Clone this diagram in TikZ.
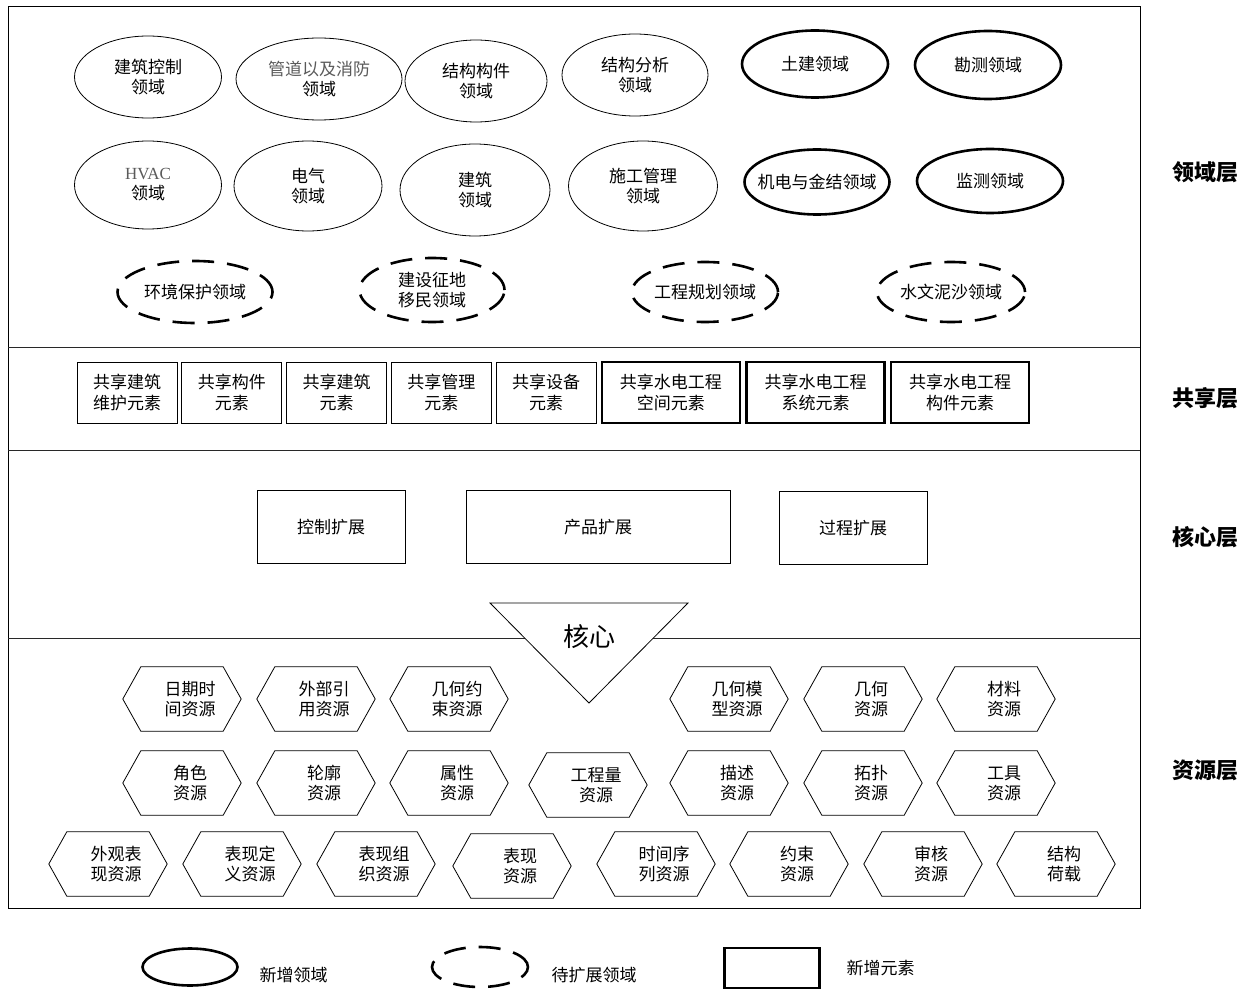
\documentclass[tikz,border=0pt]{standalone}
\usepackage{fontspec}
\setmainfont{Noto Sans CJK SC}
\newfontfamily\latinserif{Liberation Serif}
\usepackage{tikz}
\usetikzlibrary{shapes.geometric,positioning,calc}
\usepackage{xcolor}
\definecolor{framegray}{RGB}{40,40,40}
\definecolor{thintext}{RGB}{90,90,90}

\tikzset{
  domainell/.style={draw, ellipse, line width=0.8pt, inner sep=0pt, align=center, font=\fontsize{17}{20}\selectfont},
  newdomain/.style={domainell, line width=2.6pt},
  futuredomain/.style={domainell, line width=2.6pt, dash pattern=on 22pt off 13pt},
  sharebox/.style={draw, line width=0.8pt, minimum width=100pt, minimum height=61pt, inner sep=0pt, align=center, font=\fontsize{17}{21}\selectfont},
  newshare/.style={sharebox, line width=2.6pt, minimum width=138pt},
  extbox/.style={draw, line width=0.8pt, minimum height=73pt, inner sep=0pt, font=\fontsize{17}{20}\selectfont},
  restext/.style={minimum width=118pt, minimum height=64pt, inner sep=0pt, align=center, font=\fontsize{17}{20}\selectfont},
  hexline/.style={line width=0.8pt, line join=miter},
  layerline/.style={line width=0.9pt, draw=framegray},
  layerlabel/.style={font=\fontsize{22}{26}\selectfont\bfseries},
  legendtext/.style={font=\fontsize{17}{20}\selectfont}
}
\newcommand{\reshex}[4]{%
  \node[restext, xshift=8pt] (#1) at (#2,#3) {#4};
  \draw[hexline] ([xshift=-8pt]#1.west) -- ([xshift=10pt]#1.north west) -- ([xshift=-26pt]#1.north east)
    -- ([xshift=-8pt]#1.east) -- ([xshift=-26pt]#1.south east) -- ([xshift=10pt]#1.south west) -- cycle;
}

\begin{document}
\begin{tikzpicture}[x=1pt, y=-1pt, node distance=4pt]
\useasboundingbox (0,0) rectangle (1253,992);

% frame and layers
\draw[line width=0.8pt] (8,6) rectangle (1140,908);
\coordinate (l1w) at (8,347);  \coordinate (l1e) at (1140,347);
\coordinate (l2w) at (8,450);  \coordinate (l2e) at (1140,450);
\coordinate (l3w) at (8,638);  \coordinate (l3e) at (1140,638);
\draw[layerline] (l1w) -- (l1e);
\draw[layerline] (l2w) -- (l2e);
\draw[layerline] (l3w) -- (l3e);

\node[layerlabel] (lydomain) at (1205,172) {领域层};
\node[layerlabel] (lyshare) at (1205,398) {共享层};
\node[layerlabel] (lycore) at (1205,537) {核心层};
\node[layerlabel] (lyres) at (1205,770) {资源层};

% domain layer
\node[domainell, minimum width=147pt, minimum height=82pt] (jzkz) at (148,77) {建筑控制\\领域};
\node[domainell, minimum width=166pt, minimum height=82pt] (gdxf) at (319,79) {\color{thintext}管道以及消防\\领域};
\node[domainell, minimum width=142pt, minimum height=82pt] (jggj) at (476,81) {结构构件\\领域};
\node[domainell, minimum width=146pt, minimum height=82pt] (jgfx) at (635,75) {结构分析\\领域};
\node[newdomain, minimum width=146pt, minimum height=67pt] (tujian) at (815,64) {土建领域};
\node[newdomain, minimum width=146pt, minimum height=68pt] (kance) at (988,65) {勘测领域};

\node[domainell, minimum width=147pt, minimum height=88pt] (hvac) at (148,185) {{\latinserif\color{thintext}HVAC}\\领域};
\node[domainell, minimum width=148pt, minimum height=90pt] (dianqi) at (308,186) {电气\\领域};
\node[domainell, minimum width=150pt, minimum height=92pt] (jianzhu) at (475,190) {建筑\\领域};
\node[domainell, minimum width=149pt, minimum height=90pt] (sggl) at (643,186) {施工管理\\领域};
\node[newdomain, minimum width=145pt, minimum height=65pt] (jdjj) at (817,182) {\makebox[0pt]{机电与金结领域}};
\node[newdomain, minimum width=146pt, minimum height=64pt] (jiance) at (990,181) {监测领域};

\node[futuredomain, minimum width=155pt, minimum height=62pt] (hjbh) at (195,292) {\makebox[0pt]{环境保护领域}};
\node[futuredomain, minimum width=145pt, minimum height=64pt] (jszd) at (432,290) {建设征地\\移民领域};
\node[futuredomain, minimum width=146pt, minimum height=60pt] (gcgh) at (705,292) {\makebox[0pt]{工程规划领域}};
\node[futuredomain, minimum width=148pt, minimum height=60pt] (swns) at (951,292) {\makebox[0pt]{水文泥沙领域}};

% shared layer
\node[sharebox] (shwh) at (127,392.5) {共享建筑\\维护元素};
\node[sharebox, right=of shwh] (shgj) {共享构件\\元素};
\node[sharebox, right=of shgj] (shjz) {共享建筑\\元素};
\node[sharebox, right=of shjz] (shgl) {共享管理\\元素};
\node[sharebox, right=of shgl] (shsb) {共享设备\\元素};
\node[newshare, right=of shsb] (shkj) {共享水电工程\\空间元素};
\node[newshare, right=of shkj] (shxt) {共享水电工程\\系统元素};
\node[newshare, right=of shxt] (shgjy) {共享水电工程\\构件元素};

% core layer
\node[extbox, minimum width=148pt] (kzkz) at (331,527) {控制扩展};
\node[extbox, minimum width=264pt] (cpkz) at (598,527) {产品扩展};
\node[extbox, minimum width=148pt] (gckz) at (853,528) {过程扩展};

\coordinate (corel) at (490,603);
\coordinate (corer) at (688,603);
\coordinate (coreb) at (589,703);
\filldraw[fill=white, line width=0.8pt, line join=miter] (corel) -- (corer) -- (coreb) -- cycle;
\node[font=\fontsize{26}{30}\selectfont] (core) at (589,637) {核心};

% resource layer
\reshex{rqsj}{182}{699}{日期时\\间资源}
\reshex{wbyy}{316}{699}{外部引\\用资源}
\reshex{jhys}{449}{699}{几何约\\束资源}
\reshex{jhmx}{729}{699}{几何模\\型资源}
\reshex{jihe}{863}{699}{几何\\资源}
\reshex{cailiao}{996}{699}{材料\\资源}

\reshex{juese}{182}{783}{角色\\资源}
\reshex{lunkuo}{316}{783}{轮廓\\资源}
\reshex{shuxing}{449}{783}{属性\\资源}
\reshex{gcl}{588}{785}{工程量\\资源}
\reshex{miaoshu}{729}{783}{描述\\资源}
\reshex{tuopu}{863}{783}{拓扑\\资源}
\reshex{gongju}{996}{783}{工具\\资源}

\reshex{wgbx}{108}{864}{外观表\\现资源}
\reshex{bxdy}{242}{864}{表现定\\义资源}
\reshex{bxzz}{376}{864}{表现组\\织资源}
\reshex{biaoxian}{512}{866}{表现\\资源}
\reshex{sjxl}{656}{864}{时间序\\列资源}
\reshex{yueshu}{789}{864}{约束\\资源}
\reshex{shenhe}{923}{864}{审核\\资源}
\reshex{jghz}{1056}{864}{结构\\荷载}

% legend
\node[newdomain, minimum width=95pt, minimum height=37pt] (lgnew) at (190,967) {};
\node[legendtext, anchor=west] (lgnewt) at (256,975) {新增领域};
\node[futuredomain, minimum width=96pt, minimum height=40pt] (lgfut) at (480,967) {};
\node[legendtext, anchor=west] (lgfutt) at (548,975) {待扩展领域};
\node[draw, line width=2.6pt, minimum width=95pt, minimum height=40pt] (lgelem) at (772,968) {};
\node[legendtext, anchor=west] (lgelemt) at (843,968) {新增元素};
\end{tikzpicture}
\end{document}
